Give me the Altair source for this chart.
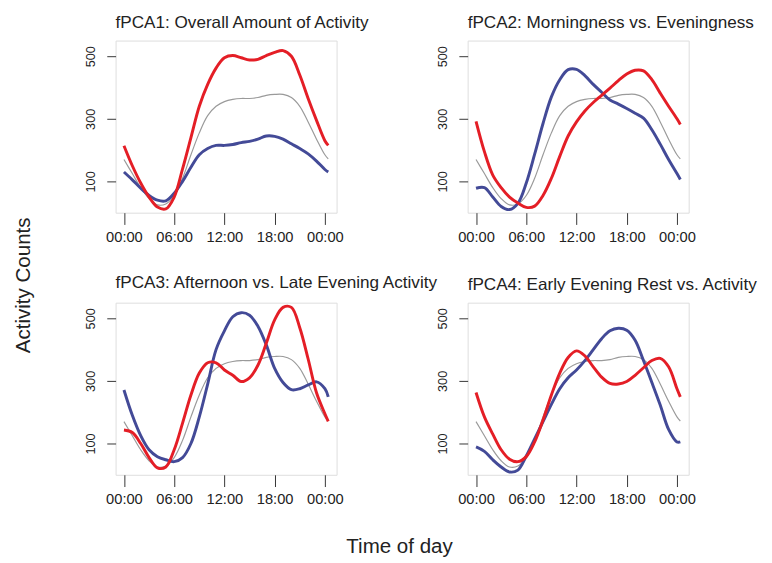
import altair as alt
import pandas as pd

hours = [0, 1, 2, 3, 4, 5, 6, 7, 8, 9, 10, 11, 12, 13, 14, 15, 16, 17, 18, 19, 20, 21, 22, 23, 24, 24.4]

mean_curve = [170, 125, 80, 45, 25, 28, 55, 110, 185, 255, 310, 340, 355, 362, 365, 365, 368, 375, 378, 378, 368, 340, 290, 235, 185, 172]

red1 = [214, 150, 95, 50, 18, 12, 50, 140, 240, 340, 410, 462, 495, 502, 495, 488, 490, 502, 512, 518, 500, 440, 365, 295, 230, 215]
blue1 = [130, 105, 78, 55, 40, 38, 62, 100, 145, 185, 205, 215, 215, 218, 224, 228, 235, 245, 244, 235, 220, 205, 188, 165, 138, 130]

red2 = [292, 195, 120, 80, 50, 31, 17, 21, 55, 110, 180, 245, 290, 325, 352, 375, 398, 422, 443, 455, 453, 425, 382, 340, 300, 282]
blue2 = [78, 80, 50, 20, 10, 30, 95, 187, 285, 370, 425, 457, 458, 438, 410, 385, 360, 347, 333, 318, 302, 265, 219, 170, 125, 106]

red3 = [143, 135, 100, 55, 22, 25, 80, 165, 255, 325, 358, 358, 335, 318, 298, 310, 350, 420, 495, 535, 535, 470, 370, 262, 195, 171]
blue3 = [271, 190, 125, 80, 58, 48, 42, 55, 100, 185, 290, 400, 460, 505, 518, 510, 475, 415, 340, 295, 272, 275, 287, 297, 275, 249]

red4 = [263, 185, 130, 80, 50, 42, 58, 105, 175, 255, 325, 375, 396, 380, 345, 312, 292, 290, 298, 318, 342, 365, 372, 345, 275, 249]
blue4 = [89, 75, 48, 25, 9, 15, 60, 115, 170, 225, 275, 310, 335, 365, 400, 435, 460, 468, 462, 430, 365, 295, 223, 145, 105, 105]

titles = [
    "fPCA1: Overall Amount of Activity",
    "fPCA2: Morningness vs. Eveningness",
    "fPCA3: Afternoon vs. Late Evening Activity",
    "fPCA4: Early Evening Rest vs. Activity",
]
reds = [red1, red2, red3, red4]
blues = [blue1, blue2, blue3, blue4]

x_ticks = [0, 6, 12, 18, 24]
y_ticks = [100, 300, 500]

FONT = "Liberation Sans"


def panel(i):
    rows = []
    for name, vals in (("mean", mean_curve), ("blue", blues[i]), ("red", reds[i])):
        for h, v in zip(hours, vals):
            rows.append({"hour": h, "value": v, "series": name})
    df = pd.DataFrame(rows)
    x = alt.X(
        "hour:Q",
        scale=alt.Scale(domain=[-1.0, 25.4], nice=False, zero=False),
        axis=alt.Axis(
            values=x_ticks,
            labelExpr="datum.value == 6 ? '06:00' : datum.value == 12 ? '12:00' : datum.value == 18 ? '18:00' : '00:00'",
            title=None, grid=False, domain=False, tickSize=12, tickColor="#333333",
            labelFontSize=15, labelFont=FONT, labelColor="#222222", labelPadding=5,
        ),
    )
    y = alt.Y(
        "value:Q",
        scale=alt.Scale(domain=[0, 550], nice=False, zero=False),
        axis=alt.Axis(
            values=y_ticks, title=None, grid=False, domain=False, tickSize=9,
            tickColor="#333333", labelAngle=270, labelAlign="center", labelBaseline="bottom",
            labelFontSize=13, labelFont=FONT, labelColor="#222222", labelPadding=10,
        ),
    )
    base = alt.Chart(df)
    gray = base.transform_filter("datum.series == 'mean'").mark_line(
        color="#9a9a9a", strokeWidth=1.2, interpolate="catmull-rom").encode(x=x, y=y)
    blue = base.transform_filter("datum.series == 'blue'").mark_line(
        color="#434a97", strokeWidth=3, interpolate="catmull-rom").encode(x=x, y=y)
    red = base.transform_filter("datum.series == 'red'").mark_line(
        color="#e41e26", strokeWidth=3, interpolate="catmull-rom").encode(x=x, y=y)
    return alt.layer(gray, blue, red).properties(
        width=226, height=176,
        title=alt.TitleParams(titles[i], anchor="start", frame="group", fontSize=17.5, font=FONT,
                              fontWeight="normal", color="#222222", offset=9),
    )


grid = alt.concat(
    panel(0), panel(1), panel(2), panel(3),
    columns=2, spacing={"row": 92, "column": 134}, bounds="flush",
).properties(
    title=alt.TitleParams("Time of day", orient="bottom", anchor="middle", fontSize=21,
                          font=FONT, fontWeight="normal", color="#222222", offset=30, dx=-22)
)
chart = alt.vconcat(grid).properties(
    title=alt.TitleParams("Activity Counts", orient="left", anchor="middle", fontSize=21,
                          font=FONT, fontWeight="normal", color="#222222", offset=51),
    padding={"left": 5, "top": 0, "right": 5, "bottom": 5},
).configure_view(stroke="#333333", strokeWidth=1).configure(background="white")

chart.save("out.html", embed_options={"renderer": "svg", "actions": False})
